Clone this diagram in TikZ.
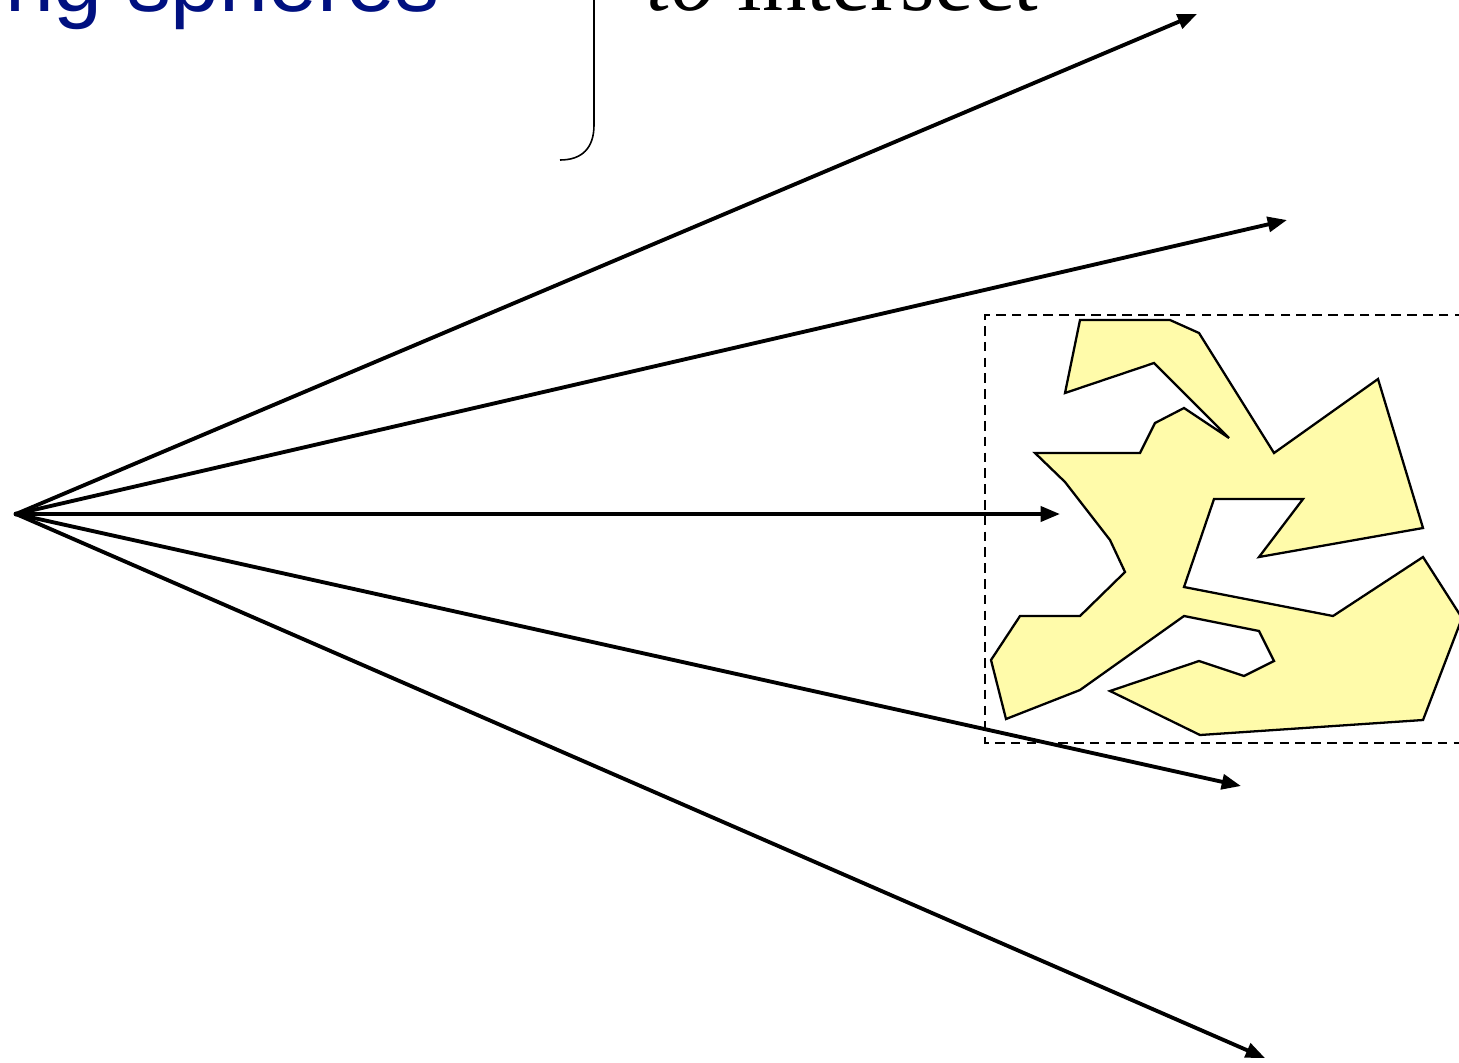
\documentclass[tikz,border=0pt]{standalone}
\usepackage{fontspec}
\setmainfont{Liberation Serif}
\newfontfamily\labelsans{Liberation Sans}
\usetikzlibrary{arrows.meta}

\definecolor{spherecol}{RGB}{0,16,128}
\definecolor{blobfill}{RGB}{255,251,170}

\tikzset{
  ray/.style={line width=2.2pt,-{Triangle[length=11pt,width=8.5pt]}},
  blob/.style={draw=black,line width=1.3pt,fill=blobfill,line join=miter},
  bbox/.style={draw=black,line width=1.1pt,dash pattern=on 5.5pt off 3.5pt},
}

\begin{document}
\begin{tikzpicture}[x=0.02cm,y=-0.02cm]
  \useasboundingbox (0,0) rectangle (1459,1062);
  \clip (0,0) rectangle (1459,1062);

  % captions, cut by the top edge
  \node[anchor=base east,inner sep=0pt,text=spherecol,
        font=\labelsans\fontsize{50}{60}\selectfont] (spheres) at (440,11) {ng spheres};
  \node[anchor=base west,inner sep=0pt,
        font=\fontsize{50.5}{60}\selectfont] (meet) at (646,10) {\textit{to} intersect};

  % end of the brace
  \draw[line width=0.9pt] (594,-5) -- (594,125)
    .. controls (594,148) and (582,160) .. (560,160);

  % bounding box of the object
  \draw[bbox] (1480,315) -- (985,315) -- (985,743) -- (1480,743);

  % the object
  \draw[blob] (1080,320) -- (1170,320) -- (1199,333) -- (1274,453)
    -- (1378,379) -- (1423,528) -- (1259,557) -- (1303,499)
    -- (1214,499) -- (1184,587) -- (1333,616) -- (1423,557)
    -- (1462,618) -- (1423,720) -- (1200,735) -- (1110,691)
    -- (1199,661) -- (1244,676) -- (1274,661) -- (1259,631)
    -- (1184,616) -- (1080,690) -- (1006,719) -- (991,660)
    -- (1020,616) -- (1080,616) -- (1125,572) -- (1110,540)
    -- (1065,482) -- (1035,453) -- (1140,453) -- (1155,423)
    -- (1184,408) -- (1229,438) -- (1154,363) -- (1065,393) -- cycle;

  % rays from the eye
  \coordinate (eye) at (16,514);
  \coordinate (r1) at (1197,14);
  \coordinate (r2) at (1287,220);
  \coordinate (r3) at (1060,514);
  \coordinate (r4) at (1241,786);
  \coordinate (r5) at (1265,1058);

  \draw[ray] (eye) -- (r1);
  \draw[ray] (eye) -- (r2);
  \draw[ray] (eye) -- (r3);
  \draw[ray] (eye) -- (r4);
  \draw[ray] (eye) -- (r5);
  \fill (eye) circle (2.5);
\end{tikzpicture}
\end{document}
